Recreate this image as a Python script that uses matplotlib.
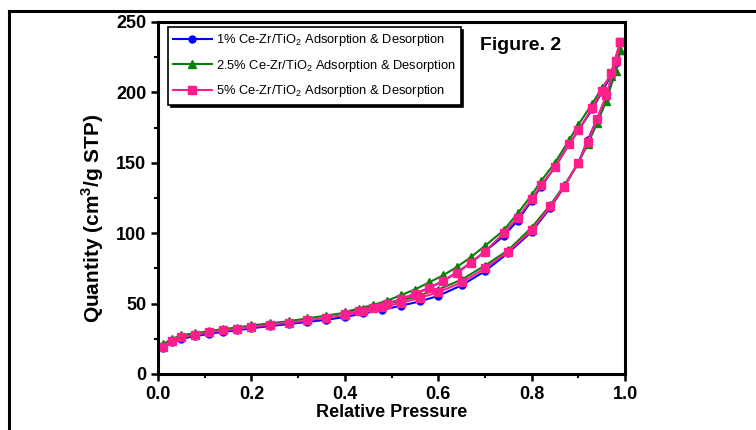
import matplotlib
matplotlib.use("Agg")
import matplotlib.pyplot as plt
from matplotlib.ticker import MultipleLocator
from matplotlib.lines import Line2D

plt.rcParams["font.family"] = ["Liberation Sans", "DejaVu Sans"]
plt.rcParams["mathtext.fontset"] = "custom"
plt.rcParams["mathtext.rm"] = "Liberation Sans"
plt.rcParams["mathtext.bf"] = "Liberation Sans:bold"

# ---- data ----
ads_p = [0.01, 0.03, 0.05, 0.08, 0.11, 0.14, 0.17, 0.20, 0.24, 0.28, 0.32, 0.36,
         0.40, 0.44, 0.48, 0.52, 0.56, 0.60, 0.65, 0.70, 0.75, 0.80, 0.84, 0.87,
         0.90, 0.92, 0.94, 0.96, 0.98, 0.99]
des_p = [0.99, 0.97, 0.95, 0.93, 0.90, 0.88, 0.85, 0.82, 0.80, 0.77, 0.74, 0.70,
         0.67, 0.64, 0.61, 0.58, 0.55, 0.52, 0.49, 0.46, 0.43, 0.40]

blue_ads = [18.5, 22.5, 25, 27, 28.5, 30, 31, 32.5, 34, 35.5, 37, 38.5,
            40.5, 43, 45.5, 48.5, 51.5, 55.5, 63, 73, 86, 101, 118, 133,
            150, 166, 181, 197, 221, 236]
blue_des = [236, 212, 200, 188, 173, 163, 147, 133, 123, 109, 98, 87,
            79, 72, 66, 61, 57, 53, 50, 47, 44.5, 42]

green_ads = [21, 25, 27.5, 29, 30.5, 32, 33, 34.5, 36, 37.5, 39.5, 41.5,
             43.5, 46, 49, 52, 56, 60, 67, 77, 88, 104, 120, 134,
             150, 163, 178, 194, 215, 230]
green_des = [230, 212, 203, 192, 177, 166, 150, 137, 127, 114, 102, 91,
             83, 76, 70, 65, 60, 56, 52, 49, 46.5, 44]

pink_ads = [19.5, 23.5, 26, 28, 29.5, 31, 32, 33.5, 35, 36.5, 38, 40,
            42, 44.5, 47.5, 50.5, 54, 58, 65, 75, 87, 102, 119, 133,
            150, 165, 181, 198, 222, 236]
pink_des = [236, 214, 201, 189, 173, 163, 147, 134, 124, 111, 100, 87,
            79, 72, 66, 61, 57, 53, 50, 47, 45, 42.5]

labels = [r"1% Ce-Zr/TiO$_2$ Adsorption & Desorption",
          r"2.5% Ce-Zr/TiO$_2$ Adsorption & Desorption",
          r"5% Ce-Zr/TiO$_2$ Adsorption & Desorption"]

series = [
    (blue_ads, blue_des, "#0000FF", "o", 5),
    (green_ads, green_des, "#0A800A", "^", 6),
    (pink_ads, pink_des, "#FF1E8C", "s", 5.5),
]

fig = plt.figure(figsize=(7.56, 4.30), dpi=100)
fig.patch.set_facecolor("white")

# outer frame (left and top lines of the pasted figure box)
fig.add_artist(Line2D([9 / 756, 9 / 756], [0, 1 - 11 / 430], color="black", lw=2.2))
fig.add_artist(Line2D([9 / 756, 1], [1 - 11 / 430, 1 - 11 / 430], color="black", lw=2.2))

ax = fig.add_axes([158 / 756, 56 / 430, 467 / 756, 352 / 430])

handles = []
for (ads, des, col, mk, ms), lab in zip(series, labels):
    ax.plot(ads_p + des_p, ads + des, color=col, marker=mk, ms=ms, lw=1.5,
            markeredgecolor=col)
    handles.append(Line2D([], [], color=col, marker=mk, ms=ms, lw=1.5, label=lab))

ax.set_xlim(0, 1.0)
ax.set_ylim(0, 250)
ax.xaxis.set_major_locator(MultipleLocator(0.2))
ax.xaxis.set_minor_locator(MultipleLocator(0.1))
ax.yaxis.set_major_locator(MultipleLocator(50))
ax.yaxis.set_minor_locator(MultipleLocator(25))
ax.tick_params(which="major", direction="out", length=5, width=1.8, labelsize=13)
ax.tick_params(which="minor", direction="out", length=3, width=1.5)
for lab in ax.get_xticklabels() + ax.get_yticklabels():
    lab.set_fontweight("bold")
for sp in ax.spines.values():
    sp.set_linewidth(2.2)

ax.set_xlabel("Relative Pressure", fontsize=13, fontweight="bold", labelpad=1)
ax.set_ylabel(r"Quantity (cm$^\mathbf{3}$/g STP)", fontsize=15, fontweight="bold")
ax.yaxis.set_label_coords(-0.112, 0.443)

leg = ax.legend(handles=handles, loc="upper left", bbox_to_anchor=(0.021, 0.986),
                borderaxespad=0, fontsize=9.3, frameon=True, fancybox=False,
                edgecolor="black", framealpha=1, shadow={"color": "black", "alpha": 1},
                handlelength=3.0, handletextpad=0.3, borderpad=0.4, labelspacing=0.75)
leg.get_frame().set_linewidth(1.2)

ax.text(0.69, 0.932, "Figure. 2", transform=ax.transAxes, fontsize=14,
        fontweight="bold", ha="left", va="center")

fig.savefig("out.png", dpi=100, facecolor="white")
